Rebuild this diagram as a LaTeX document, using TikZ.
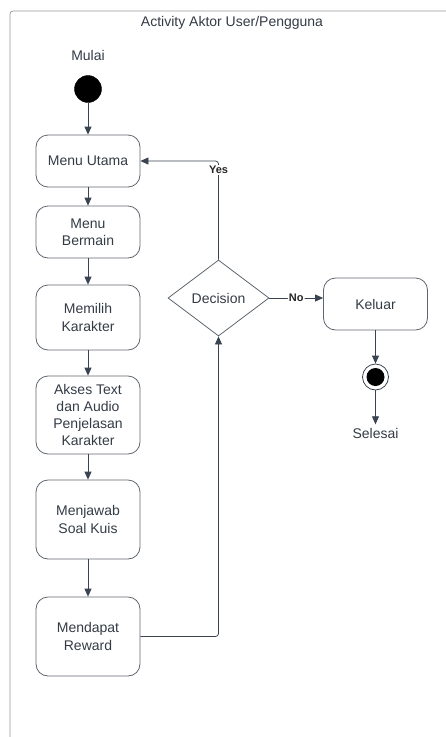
\documentclass[tikz,border=0pt]{standalone}
\usepackage{fontspec}
\setmainfont{Liberation Sans}
\usetikzlibrary{shapes.geometric,arrows.meta}
\definecolor{txt}{HTML}{333B45}
\definecolor{ln}{HTML}{3A4350}
\definecolor{bd}{HTML}{5F6670}
\definecolor{fr}{HTML}{9A9A9A}
\tikzset{
  act/.style={draw=bd, line width=0.8pt, rounded corners=12pt, minimum width=104pt, inner sep=2pt,
    align=center, text=txt, font=\fontsize{14}{17.3}\selectfont},
  lbl/.style={text=txt, font=\fontsize{14}{17}\selectfont},
  flow/.style={draw=ln, line width=0.8pt, -{Triangle[length=8pt,width=7pt]}, rounded corners=3pt},
  guard/.style={fill=white, inner sep=1pt, text=black!85, font=\bfseries\fontsize{11}{13}\selectfont},
}
\begin{document}
\begin{tikzpicture}[x=1pt,y=-1pt]
\useasboundingbox (0,0) rectangle (446,737);
\draw[fr, line width=0.8pt, rounded corners=3pt] (448,11) -- (10,11) -- (10,740);
\node[lbl] (title) at (232,23) {Activity Aktor User/Pengguna};
\node[lbl] (mulai) at (88,55) {Mulai};
\node[circle, fill=black, draw=black, minimum size=27pt, inner sep=0] (start) at (88,89) {};
\node[act, minimum height=52pt] (utama) at (88,161) {Menu Utama};
\node[act, minimum height=52pt] (bermain) at (88,232) {Menu\\Bermain};
\node[act, minimum height=65pt] (memilih) at (88,317.5) {Memilih\\Karakter};
\node[act, minimum height=78pt] (akses) at (88,415) {Akses Text\\dan Audio\\Penjelasan\\Karakter};
\node[act, minimum height=79pt] (jawab) at (88,519.5) {Menjawab\\Soal Kuis};
\node[act, minimum height=79pt] (reward) at (88,636.5) {Mendapat\\Reward};
\node[diamond, draw=bd, line width=0.8pt, minimum width=101pt, minimum height=76pt, inner sep=0, text=txt,
  font=\fontsize{14}{17}\selectfont] (dec) at (218.5,298) {Decision};
\node[act, minimum height=52pt] (keluar) at (375.5,304) {Keluar};
\node[circle, draw=ln, line width=0.8pt, minimum size=26pt, inner sep=0] (end) at (375.5,377) {};
\fill[black] (end.center) circle (9pt);
\node[lbl] (selesai) at (375.5,433) {Selesai};
\draw[flow] (start) -- (utama);
\draw[flow] (utama) -- (bermain);
\draw[flow] (bermain) -- (memilih);
\draw[flow] (memilih) -- (akses);
\draw[flow] (akses) -- (jawab);
\draw[flow] (jawab) -- (reward);
\draw[flow] (reward.east) -- (dec.south |- reward.east) -- (dec.south);
\draw[flow] (dec.north) -- (dec.north |- utama.east) -- (utama.east);
\node[guard] (yes) at (218.5,170) {Yes};
\draw[flow] (dec.east) -- (keluar.west |- dec.east) node[guard, pos=0.5] (no) {No};
\draw[flow] (keluar.south) -- (end.north);
\draw[flow] (end.south) -- (selesai.north);
\end{tikzpicture}
\end{document}
